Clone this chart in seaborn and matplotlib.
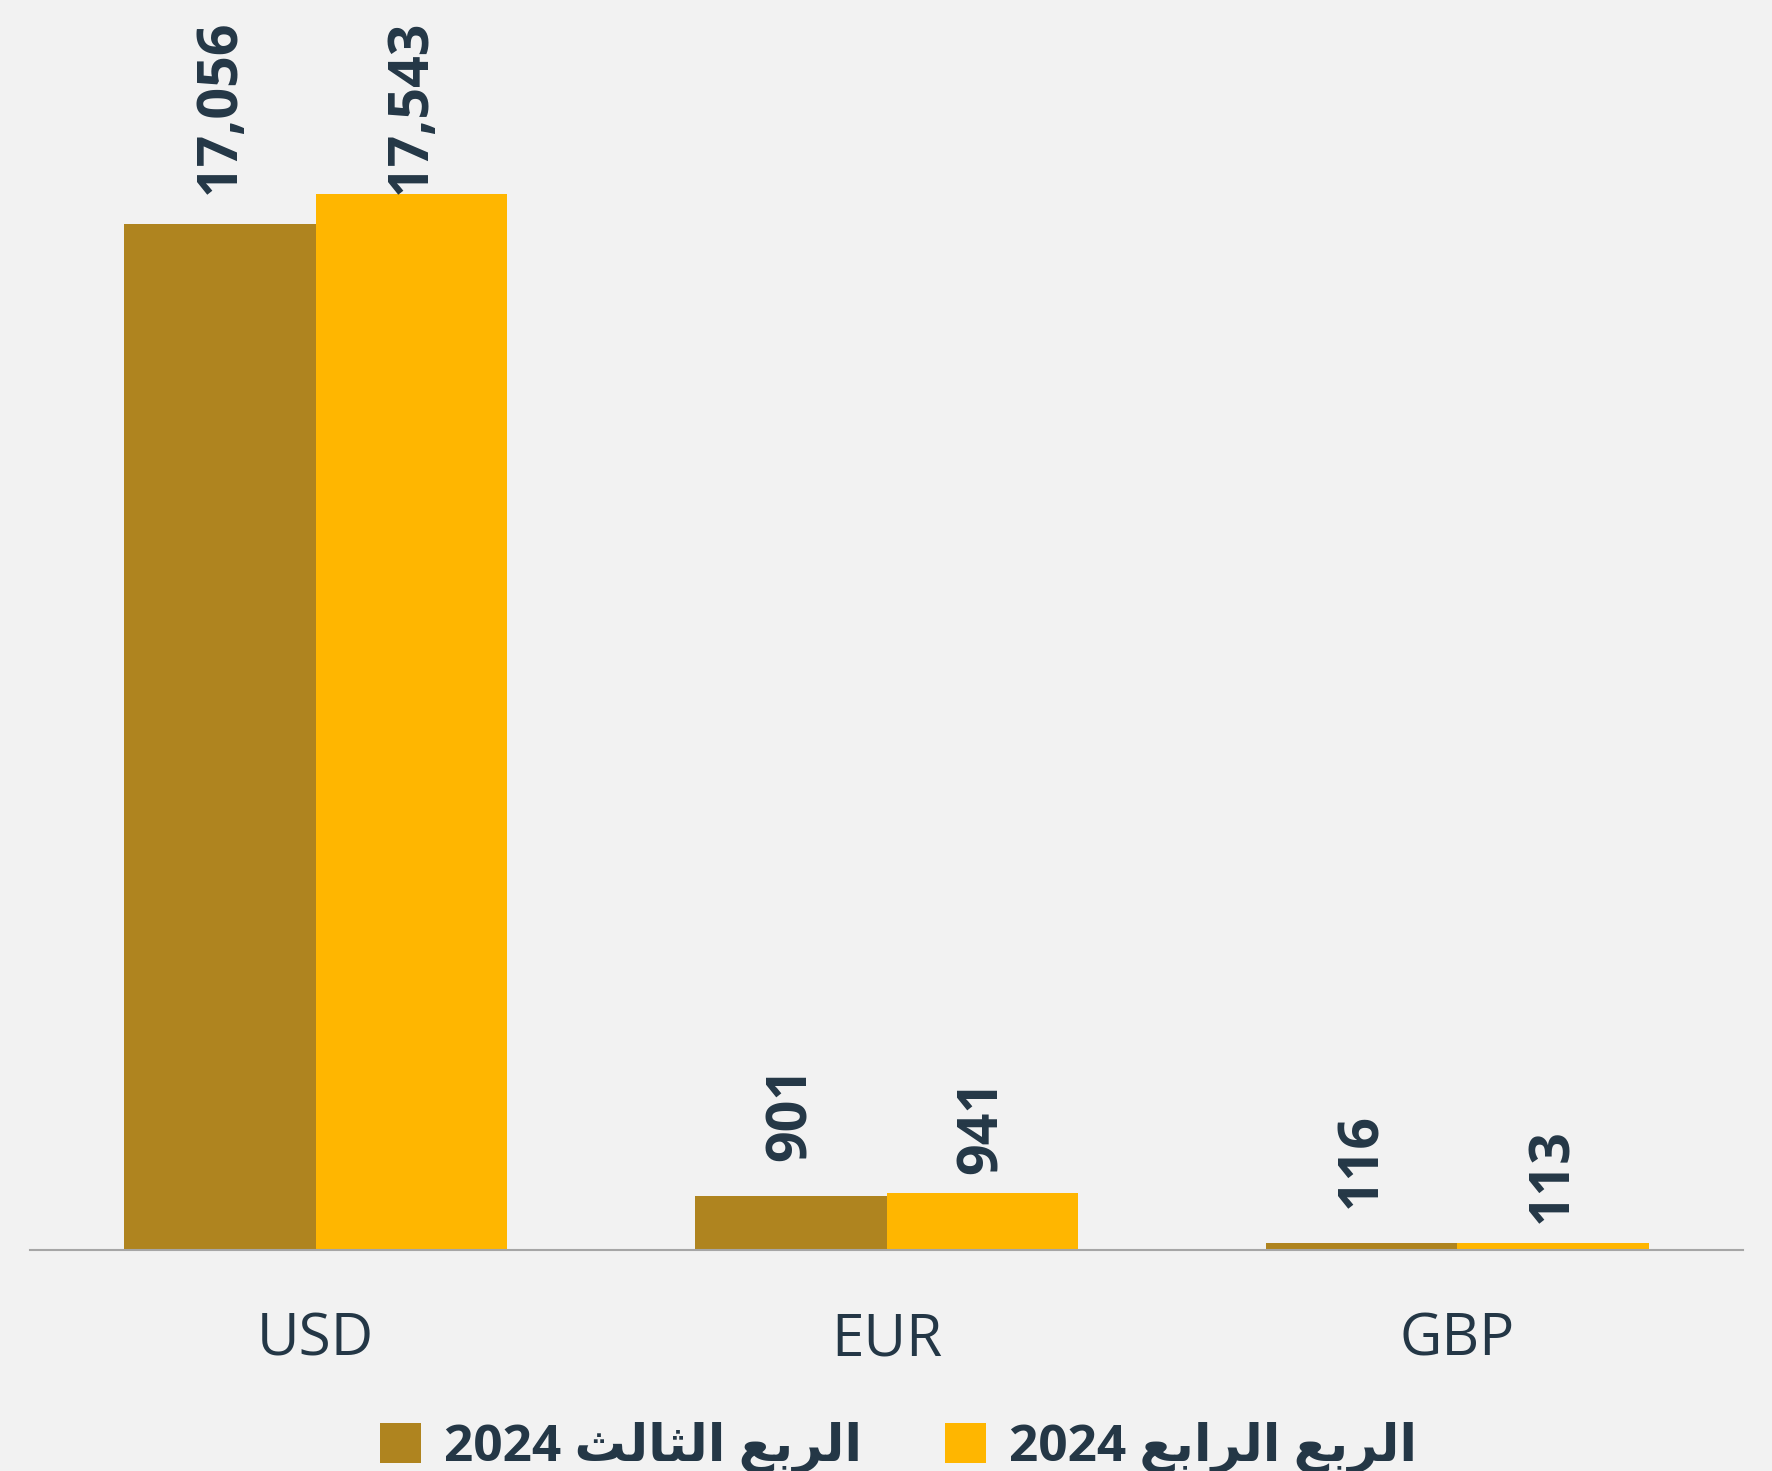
import matplotlib
matplotlib.use("Agg")
import matplotlib.pyplot as plt
from matplotlib.patches import Patch
import seaborn as sns
import pandas as pd

# ---------------- data ----------------
categories = ["USD", "EUR", "GBP"]
series_names = ["الربع الثالث 2024", "الربع الرابع 2024"]
q3_2024 = [17056, 901, 116]
q4_2024 = [17543, 941, 113]
colors = ["#AF841F", "#FFB600"]

TEXT = "#243746"
BG = "#F2F2F2"

# ------------- minimal Arabic shaping (presentation forms, visual order) -------------
FORMS = {
    "ا": ("\uFE8D", "\uFE8E", None, None),
    "ل": ("\uFEDD", "\uFEDE", "\uFEDF", "\uFEE0"),
    "ر": ("\uFEAD", "\uFEAE", None, None),
    "ب": ("\uFE8F", "\uFE90", "\uFE91", "\uFE92"),
    "ع": ("\uFEC9", "\uFECA", "\uFECB", "\uFECC"),
    "ث": ("\uFE99", "\uFE9A", "\uFE9B", "\uFE9C"),
}


def shape_word(word):
    out = []
    n = len(word)
    for i, ch in enumerate(word):
        if ch not in FORMS:
            out.append(ch)
            continue
        iso, fin, ini, med = FORMS[ch]
        prev_j = i > 0 and word[i - 1] in FORMS and FORMS[word[i - 1]][2] is not None
        next_j = i < n - 1 and word[i + 1] in FORMS and ini is not None
        if prev_j and next_j:
            out.append(med)
        elif prev_j:
            out.append(fin)
        elif next_j:
            out.append(ini)
        else:
            out.append(iso)
    return "".join(reversed(out))


def display(text):
    toks = text.split(" ")
    res = []
    for t in reversed(toks):
        if any(c in FORMS for c in t):
            res.append(shape_word(t))
        else:
            res.append(t)
    return " ".join(res)


sns.set_theme(style="white")
plt.rcParams["font.family"] = ["Open Sans", "DejaVu Sans"]

fig = plt.figure(figsize=(17.72, 14.71), dpi=100, facecolor=BG)
ax = fig.add_axes([0.017, 0.1502, 0.9666, 0.8181])
ax.set_facecolor(BG)

labels_disp = [display(s) for s in series_names]
df = pd.DataFrame({
    "cat": categories * 2,
    "series": [labels_disp[0]] * len(categories) + [labels_disp[1]] * len(categories),
    "value": q3_2024 + q4_2024,
})

sns.barplot(data=df, x="cat", y="value", hue="series", hue_order=labels_disp,
            palette=colors, width=0.67, gap=0, linewidth=0, saturation=1,
            ax=ax, legend=False)

ax.set_ylim(0, 20000)
ax.set_xlim(-0.5, len(categories) - 0.5)

label_offsets = [580, 330]
label_cap = 17550
for cont, vals, off in zip(ax.containers, [q3_2024, q4_2024], label_offsets):
    for bar, v in zip(cont, vals):
        x = bar.get_x() + bar.get_width() / 2
        y = min(v + off, label_cap)
        ax.text(x, y, f"{v:,}", rotation=90, ha="center", va="bottom",
                fontsize=40, fontweight="bold", color=TEXT)

for s in ["top", "right", "left"]:
    ax.spines[s].set_visible(False)
ax.spines["bottom"].set_color("#A6A6A6")
ax.spines["bottom"].set_linewidth(1.5)
ax.set_yticks([])
ax.set_xlabel("")
ax.set_ylabel("")
ax.tick_params(axis="x", length=0, pad=44, labelsize=42, labelcolor=TEXT)

handles = [Patch(facecolor=c, edgecolor="none", label=l) for c, l in zip(colors, labels_disp)]
fig.legend(handles=handles, loc="center", bbox_to_anchor=(0.507, 0.016), ncol=2,
           frameon=False, prop={"weight": "bold", "size": 37}, labelcolor=TEXT,
           handlelength=0.8, handleheight=0.8, handletextpad=0.45, columnspacing=1.6)

fig.savefig("out.png", dpi=100, facecolor=BG)
